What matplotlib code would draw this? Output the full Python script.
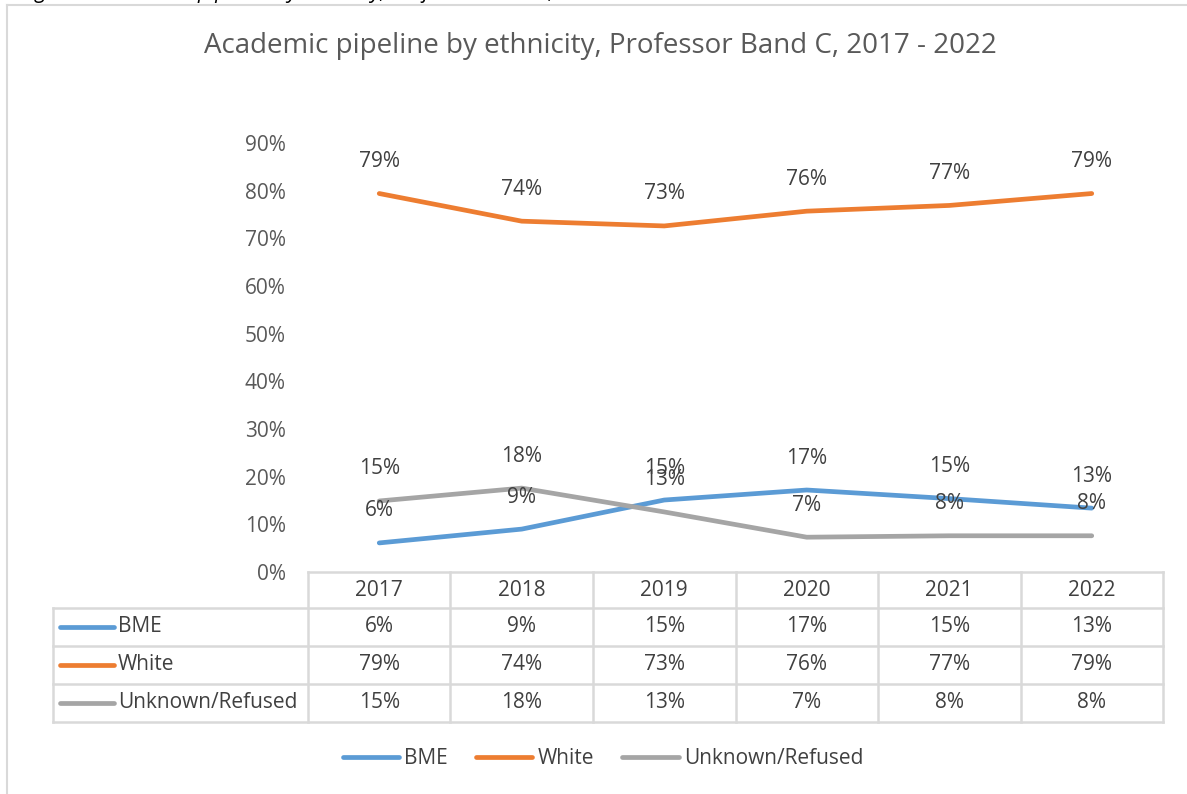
import matplotlib.pyplot as plt
from matplotlib.transforms import blended_transform_factory

plt.rcParams['font.family'] = ['Open Sans', 'DejaVu Sans']

# data (percent)
years = ["2017", "2018", "2019", "2020", "2021", "2022"]
bme = [6.1, 9.0, 15.1, 17.2, 15.4, 13.4]
white = [79.4, 73.6, 72.6, 75.7, 76.9, 79.4]
unknown = [14.9, 17.6, 12.6, 7.3, 7.6, 7.6]
series_names = ["BME", "White", "Unknown/Refused"]
series_vals = [bme, white, unknown]
colors = ["#5B9BD5", "#ED7D31", "#A5A5A5"]
yticks = [0, 10, 20, 30, 40, 50, 60, 70, 80, 90]

W, H = 1187, 794
fig = plt.figure(figsize=(W / 100, H / 100), dpi=100)
grid = "#D9D9D9"
txt = "#595959"
dark = "#404040"
fs = 15


def fy(py):
    return 1 - py / H


def fx(px):
    return px / W


# chart border (cropped at right/bottom)
fig.add_artist(plt.Line2D([fx(7), fx(7)], [fy(5), 0], color=grid, lw=1.5))
fig.add_artist(plt.Line2D([fx(7), 1], [fy(5), fy(5)], color=grid, lw=1.5))

# caption sitting above the crop
fig.text(fx(20), fy(-2), "Figure 5: Academic pipeline by ethnicity, Professor Band C, 2017 to 2022",
         fontsize=15, style="italic", color="black", va="baseline")

fig.text(fx(600), fy(46), "Academic pipeline by ethnicity, Professor Band C, 2017 - 2022",
         fontsize=20, color=txt, ha="center", va="center")

ax = fig.add_axes([fx(308), fy(572), fx(1163) - fx(308), fy(143) - fy(572)])
x = range(len(years))
lines = []
for name, vals, c in zip(series_names, series_vals, colors):
    ln, = ax.plot(x, vals, color=c, lw=3.4, solid_capstyle="round", solid_joinstyle="round", label=name)
    lines.append(ln)
    for xi, v in zip(x, vals):
        ax.annotate(f"{v:.0f}%", (xi, v), xytext=(0, 32), textcoords="offset pixels",
                    ha="center", va="center", fontsize=fs, color=dark)

ax.set_xlim(-0.5, len(years) - 0.5)
ax.set_ylim(0, 90)
ax.set_yticks(yticks)
ax.set_yticklabels([f"{t}%" for t in yticks], fontsize=fs, color=txt)
ax.tick_params(axis="y", length=0, pad=16)
ax.set_xticks([])
for s in ax.spines.values():
    s.set_visible(False)

# data table under the axis
tr = blended_transform_factory(ax.transData, fig.transFigure)
x0, x1 = -0.5, len(years) - 0.5
rows_y = [572, 608, 646, 684, 722]
kw = dict(color=grid, lw=1.8, clip_on=False)
ax.plot([x0, x1], [fy(572), fy(572)], transform=tr, **kw)
for py in rows_y[1:]:
    fig.add_artist(plt.Line2D([fx(53), fx(1163)], [fy(py), fy(py)], **kw))
for i in range(len(years) + 1):
    ax.plot([i - 0.5, i - 0.5], [fy(572), fy(722)], transform=tr, **kw)
fig.add_artist(plt.Line2D([fx(53), fx(53)], [fy(608), fy(722)], **kw))

for i, yr in enumerate(years):
    ax.text(i, fy(590), yr, transform=tr, ha="center", va="center", fontsize=fs, color=dark)
for r, (name, vals, c) in enumerate(zip(series_names, series_vals, colors)):
    yc = (rows_y[r + 1] + rows_y[r + 2]) / 2
    fig.add_artist(plt.Line2D([fx(60), fx(114)], [fy(yc), fy(yc)], color=c, lw=3.4, solid_capstyle="round"))
    fig.text(fx(118), fy(yc), name, ha="left", va="center", fontsize=fs, color=dark)
    for i, v in enumerate(vals):
        ax.text(i, fy(yc), f"{v:.0f}%", transform=tr, ha="center", va="center", fontsize=fs, color=dark)

leg = fig.legend(handles=lines, loc="center", bbox_to_anchor=(fx(603), fy(759)), ncol=3,
                 frameon=False, fontsize=fs, handlelength=2.7, handletextpad=0.25,
                 columnspacing=1.35, labelcolor=dark)

fig.savefig("out.png", dpi=100, facecolor="white")
